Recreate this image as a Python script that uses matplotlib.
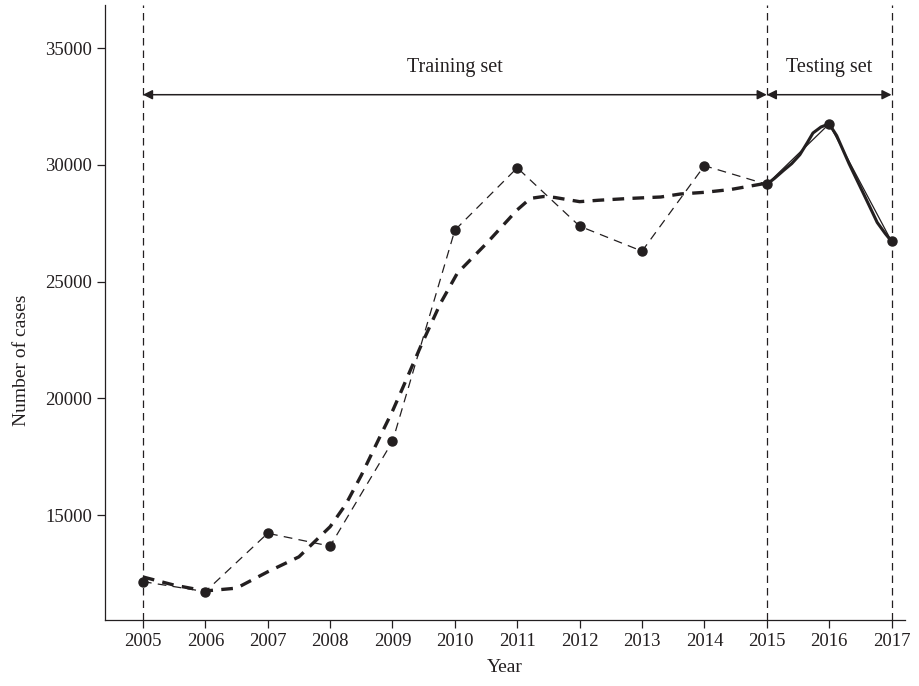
import matplotlib
matplotlib.use("Agg")
import matplotlib.pyplot as plt

plt.rcParams['font.family'] = ['Liberation Serif', 'DejaVu Serif']

# observed cases per year
years = [2005, 2006, 2007, 2008, 2009, 2010, 2011, 2012, 2013, 2014, 2015, 2016, 2017]
cases = [12150, 11720, 14220, 13670, 18150, 27200, 29870, 27370, 26300, 29960, 29160, 31750, 26720]

# fitted curve over the training period
fit_x = [2005, 2005.5, 2006, 2006.5, 2007, 2007.5, 2008, 2008.25, 2008.5, 2008.8,
         2009, 2009.15, 2009.45, 2009.77, 2010.04, 2010.51, 2011, 2011.21, 2011.42,
         2011.6, 2012, 2012.3, 2012.81, 2013.3, 2013.62, 2014.0, 2014.42, 2014.95, 2015]
fit_y = [12350, 12000, 11750, 11870, 12570, 13210, 14500, 15450, 16700, 18360,
         19450, 20360, 22210, 24070, 25360, 26640, 28070, 28560, 28640,
         28600, 28420, 28480, 28560, 28620, 28750, 28820, 28940, 29190, 29160]

# predicted curve over the testing period
pred_x = [2015, 2015.125, 2015.27, 2015.4, 2015.53, 2015.65, 2015.74, 2015.87, 2016,
          2016.12, 2016.32, 2016.54, 2016.66, 2016.77, 2016.9, 2017]
pred_y = [29160, 29420, 29760, 30050, 30430, 30950, 31360, 31620, 31750,
          31250, 30040, 28820, 28150, 27530, 27050, 26720]

year_ticks = list(range(2005, 2018))
case_ticks = [15000, 20000, 25000, 30000, 35000]
split_years = [2005, 2015, 2017]
set_labels = ['Training set', 'Testing set']

ink = '#231f20'

fig = plt.figure(figsize=(9.2, 6.86), dpi=100)
ax = fig.add_axes([0.114, 0.096, 0.87, 0.897])

# vertical separators
for yr in split_years:
    ax.axvline(yr, color=ink, lw=0.9, ls=(0, (6, 4)), zorder=1)

# observed training data (thin dashed) and testing data (thin solid)
ax.plot(years[:11], cases[:11], color=ink, lw=0.9, ls=(0, (7, 5)), zorder=3)
ax.plot(years[10:], cases[10:], color=ink, lw=0.9, zorder=3)
ax.plot(fit_x, fit_y, color=ink, lw=2.4, ls=(0, (3.5, 2.5)), zorder=2)
ax.plot(pred_x, pred_y, color=ink, lw=2.2, zorder=2)
ax.plot(years, cases, 'o', color=ink, ms=6.5, zorder=4)

# training / testing arrows
arrow_y = 33000
label_y = 34150
for (x0, x1), lab in zip([(split_years[0], split_years[1]), (split_years[1], split_years[2])], set_labels):
    ax.annotate('', xy=(x0, arrow_y), xytext=(x1, arrow_y),
                arrowprops=dict(arrowstyle='<|-|>', color=ink, lw=1.1,
                                shrinkA=0, shrinkB=0, mutation_scale=14))
    ax.text((x0 + x1) / 2, label_y, lab, ha='center', va='center', fontsize=14.5, color=ink)

ax.set_xlim(2004.39, 2017.22)
ax.set_ylim(10500, 36850)
ax.set_xticks(year_ticks)
ax.set_yticks(case_ticks)
ax.tick_params(axis='both', labelsize=13.5, colors=ink, length=6, width=0.9, direction='out')
ax.tick_params(axis='y', pad=3)
ax.set_xlabel('Year', fontsize=14, color=ink, labelpad=6)
ax.set_ylabel('Number of cases', fontsize=14, color=ink)
ax.yaxis.set_label_coords(-0.094, 0.423)

for side in ['top', 'right']:
    ax.spines[side].set_visible(False)
for side in ['left', 'bottom']:
    ax.spines[side].set_color(ink)
    ax.spines[side].set_linewidth(0.9)

fig.savefig('out.png', dpi=100)
